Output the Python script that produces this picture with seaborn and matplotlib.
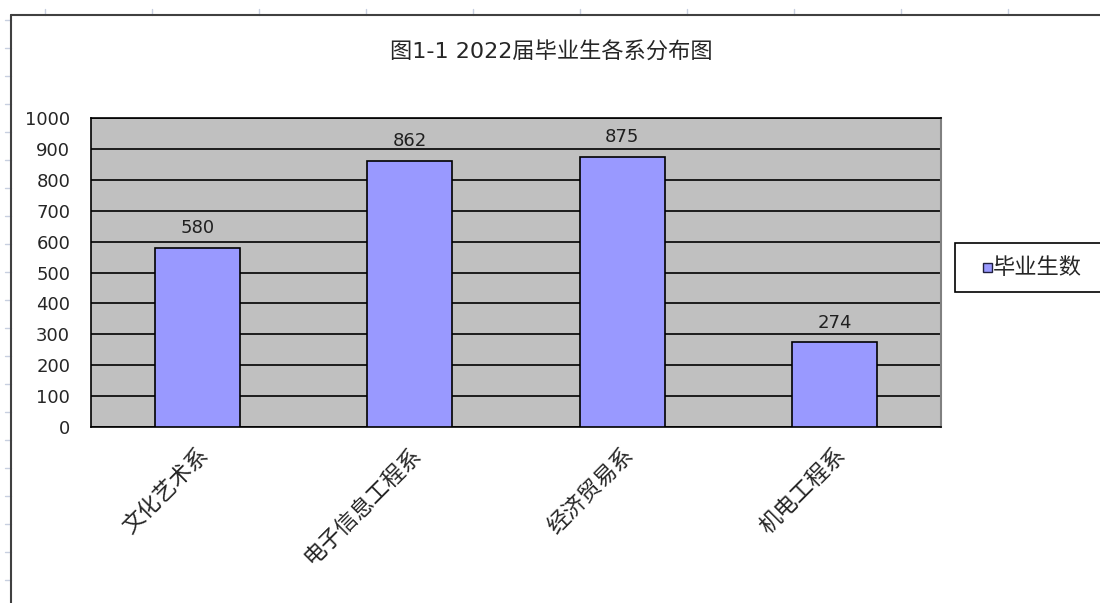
import matplotlib
matplotlib.use("Agg")
import matplotlib.pyplot as plt
from matplotlib.lines import Line2D
from matplotlib.patches import Rectangle
import seaborn as sns

# data
departments = ["文化艺术系", "电子信息工程系", "经济贸易系", "机电工程系"]
graduates = [580, 862, 875, 274]
series_name = "毕业生数"
title = "图1-1 2022届毕业生各系分布图"
y_ticks = list(range(0, 1001, 100))

sns.set_style("white")
plt.rcParams["font.family"] = ["DejaVu Sans", "Noto Sans CJK SC"]

W, H = 1100, 603
fig = plt.figure(figsize=(W / 100, H / 100), dpi=100)
fig.patch.set_facecolor("white")

# sheet tick marks around the chart frame
for x in range(45, W, 107):
    fig.add_artist(Line2D([x / W, x / W], [1 - 9 / H, 1 - 15 / H], color="#C8D0E0", lw=1))
for y in range(20, H, 28):
    fig.add_artist(Line2D([5 / W, 11 / W], [1 - y / H, 1 - y / H], color="#C8D0E0", lw=1))

# chart frame (left and top edges visible)
fig.add_artist(Line2D([11 / W, 11 / W], [0, 1 - 15 / H], color="#404040", lw=1.5))
fig.add_artist(Line2D([11 / W, 1], [1 - 15 / H, 1 - 15 / H], color="#404040", lw=1.5))

ax = fig.add_axes([91 / W, 1 - 427 / H, 850 / W, 309 / H])
ax.set_facecolor("#C0C0C0")

sns.barplot(x=departments, y=graduates, color="#9999FF", edgecolor="black",
            linewidth=1.2, width=0.4, saturation=1, ax=ax, zorder=3)

ax.set_xlim(-0.5, len(departments) - 0.5)
ax.set_ylim(0, 1000)
ax.set_yticks(y_ticks)
ax.yaxis.grid(True, color="black", lw=1.2, zorder=1)
ax.set_axisbelow(True)
ax.tick_params(axis="y", length=0, labelsize=13, pad=15)
ax.tick_params(axis="x", which="major", length=0, labelsize=16, pad=12)
ax.set_xticks([i + 0.5 for i in range(len(departments) - 1)], minor=True)
ax.tick_params(axis="x", which="minor", direction="in", length=5, color="black", width=1)
plt.setp(ax.get_xticklabels(), rotation=45, ha="right", rotation_mode="anchor")
ax.set_xlabel("")
ax.set_ylabel("")

for side in ["left", "bottom", "top"]:
    ax.spines[side].set_color("black")
    ax.spines[side].set_linewidth(1.2)
ax.spines["right"].set_color("#808080")
ax.spines["right"].set_linewidth(1.5)

for i, v in enumerate(graduates):
    ax.text(i, v + 35, str(v), ha="center", va="bottom", fontsize=13, color="#202020")

fig.text(551 / W, 1 - 52 / H, title, ha="center", va="center", fontsize=16)

# legend box
fig.add_artist(Rectangle((955 / W, 1 - 292 / H), 200 / W, 49 / H, transform=fig.transFigure,
                         facecolor="white", edgecolor="black", lw=1.2, clip_on=False))
fig.add_artist(Rectangle((983 / W, 1 - 272 / H), 9 / W, 9 / H, transform=fig.transFigure,
                         facecolor="#9999FF", edgecolor="#202040", lw=1))
fig.text(993 / W, 1 - 268 / H, series_name, ha="left", va="center", fontsize=16)

fig.savefig("out.png", dpi=100)
